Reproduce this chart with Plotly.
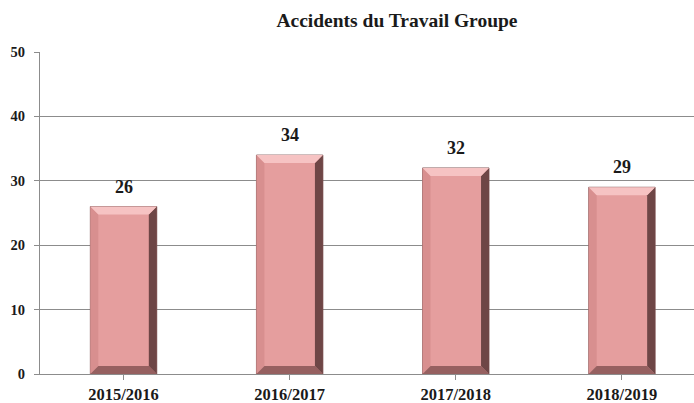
import plotly.graph_objects as go

categories = ["2015/2016", "2016/2017", "2017/2018", "2018/2019"]
values = [26, 34, 32, 29]
y_ticks = [0, 10, 20, 30, 40, 50]
title_text = "Accidents du Travail Groupe"

BAR_W = 0.4
DX = 0.048
DY = 1.25
FONT = "Liberation Serif, serif"

fig = go.Figure()
fig.add_trace(go.Bar(
    x=list(range(len(categories))), y=values, width=BAR_W,
    marker=dict(color="#E59E9E", line=dict(color="#7A4E4E", width=0.8)),
    hoverinfo="skip", showlegend=False,
))

def path(pts):
    return "M " + " L ".join(f"{px},{py}" for px, py in pts) + " Z"

shapes = []
for i, v in enumerate(values):
    xl, xr = i - BAR_W / 2, i + BAR_W / 2
    shapes.append(dict(type="path", xref="x", yref="y", layer="above",
                       path=path([(xl, 0), (xl, v), (xl + DX, v - DY), (xl + DX, DY)]),
                       fillcolor="#D88F8F", line=dict(width=0)))
    shapes.append(dict(type="path", xref="x", yref="y", layer="above",
                       path=path([(xl, 0), (xr, 0), (xr - DX, DY), (xl + DX, DY)]),
                       fillcolor="#966060", line=dict(width=0)))
    shapes.append(dict(type="path", xref="x", yref="y", layer="above",
                       path=path([(xr, v), (xr, 0), (xr - DX, DY), (xr - DX, v - DY)]),
                       fillcolor="#6E4646", line=dict(width=0)))
    shapes.append(dict(type="path", xref="x", yref="y", layer="above",
                       path=path([(xl, v), (xr, v), (xr - DX, v - DY), (xl + DX, v - DY)]),
                       fillcolor="#F6C3C3", line=dict(width=0)))

annotations = [dict(x=i, y=v, xref="x", yref="y", text=f"<b>{v}</b>", showarrow=False,
                    yanchor="bottom", yshift=8,
                    font=dict(family=FONT, size=18, color="#1a1a1a"))
               for i, v in enumerate(values)]

fig.update_layout(
    width=694, height=403,
    margin=dict(l=40, r=0, t=52, b=29),
    paper_bgcolor="white", plot_bgcolor="white",
    shapes=shapes, annotations=annotations,
    title=dict(text=f"<b>{title_text}</b>", xref="container", yref="container",
               x=0.572, y=0.95, xanchor="center", yanchor="middle",
               font=dict(family=FONT, size=19.5, color="#1a1a1a")),
)
fig.update_xaxes(
    tickmode="array", tickvals=list(range(len(categories))),
    ticktext=[f"<b>{c}</b>" for c in categories],
    range=[-0.503, 3.434],
    showline=True, linecolor="#8C8C8C", linewidth=1,
    ticks="outside", ticklen=5, tickcolor="#8C8C8C",
    showgrid=False, zeroline=False,
    tickfont=dict(family=FONT, size=16.5, color="#1a1a1a"),
)
fig.update_yaxes(
    range=[0, 50], tickmode="array", tickvals=y_ticks,
    ticktext=[f"<b>{t}</b>" for t in y_ticks],
    showline=True, linecolor="#8C8C8C", linewidth=1,
    ticks="outside", ticklen=5, tickcolor="#8C8C8C",
    ticklabelstandoff=6,
    showgrid=True, gridcolor="#8C8C8C", gridwidth=1, zeroline=False,
    tickfont=dict(family=FONT, size=14.5, color="#1a1a1a"),
)
fig.write_html("out.html", config={"displayModeBar": False},
               post_script="document.body.style.margin='0';")
